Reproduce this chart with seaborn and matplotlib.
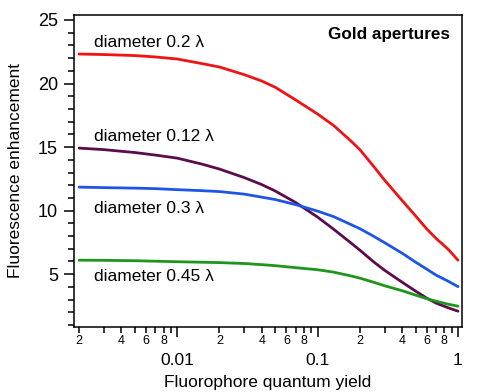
import numpy as np
import pandas as pd
import matplotlib
matplotlib.use("Agg")
import matplotlib.pyplot as plt
import matplotlib.ticker as mticker
import seaborn as sns

# ---- data ----
quantum_yield = [0.002, 0.003, 0.005, 0.007, 0.01, 0.015, 0.02, 0.03, 0.04, 0.05, 0.07, 0.1,
                 0.13, 0.17, 0.2, 0.25, 0.3, 0.4, 0.5, 0.6, 0.7, 0.85, 1.0]
d_020 = [22.32, 22.28, 22.2, 22.09, 21.93, 21.57, 21.3, 20.7, 20.2, 19.7, 18.7, 17.6,
         16.7, 15.55, 14.8, 13.5, 12.4, 10.8, 9.57, 8.55, 7.8, 6.97, 6.1]
d_012 = [14.92, 14.8, 14.57, 14.37, 14.13, 13.66, 13.27, 12.6, 12.05, 11.54, 10.63, 9.49,
         8.54, 7.52, 6.89, 5.98, 5.31, 4.37, 3.66, 3.11, 2.72, 2.36, 2.09]
d_030 = [11.85, 11.81, 11.77, 11.73, 11.65, 11.57, 11.5, 11.3, 11.06, 10.87, 10.47, 9.96,
         9.53, 8.94, 8.58, 7.99, 7.48, 6.65, 5.94, 5.39, 4.92, 4.45, 4.02]
d_045 = [6.1, 6.09, 6.06, 6.02, 5.98, 5.94, 5.91, 5.84, 5.75, 5.67, 5.51, 5.35,
         5.16, 4.88, 4.69, 4.37, 4.09, 3.70, 3.35, 3.07, 2.87, 2.64, 2.48]
series_names = ["diameter 0.2 \u03bb", "diameter 0.12 \u03bb", "diameter 0.3 \u03bb", "diameter 0.45 \u03bb"]
label_y = [23.2, 15.85, 10.15, 4.8]
colors = ["#ee1414", "#5a0c4c", "#1f55e6", "#1c961c"]

rows = []
for name, vals in zip(series_names, [d_020, d_012, d_030, d_045]):
    for q, v in zip(quantum_yield, vals):
        rows.append({"q": q, "E": v, "series": name})
df = pd.DataFrame(rows)

sns.set_style("ticks")
plt.rcParams["font.family"] = ["Liberation Sans", "DejaVu Sans"]
for key in ["text.color", "axes.labelcolor", "xtick.color", "ytick.color", "axes.edgecolor"]:
    plt.rcParams[key] = "black"

fig = plt.figure(figsize=(5.0, 3.92), dpi=100)
ax = fig.add_axes([0.148, 0.166, 0.776, 0.796])

sns.lineplot(data=df, x="q", y="E", hue="series", palette=dict(zip(series_names, colors)),
             linewidth=2.0, legend=False, ax=ax)

ax.set_xscale("log")
ax.set_xlim(0.00184, 1.068)
ax.set_ylim(0.85, 25.4)

ax.xaxis.set_major_locator(mticker.FixedLocator([0.01, 0.1, 1.0]))
ax.xaxis.set_major_formatter(mticker.FuncFormatter(lambda v, p: f"{v:g}"))
ax.xaxis.set_minor_locator(mticker.LogLocator(base=10, subs=np.arange(2, 10), numticks=20))

def minor_fmt(v, p):
    m = int(round(v / 10 ** np.floor(np.log10(v))))
    return str(m) if m in (2, 4, 6, 8) else ""

ax.xaxis.set_minor_formatter(mticker.FuncFormatter(minor_fmt))
ax.yaxis.set_major_locator(mticker.MultipleLocator(5))
ax.yaxis.set_minor_locator(mticker.MultipleLocator(1))

for s in ax.spines.values():
    s.set_linewidth(1.1)
    s.set_color("black")

ax.tick_params(axis="x", which="major", length=7.5, width=1.1, pad=11, labelsize=12.5, color="black")
ax.tick_params(axis="x", which="minor", length=4, width=1.1, pad=1.5, labelsize=9, color="black")
ax.tick_params(axis="y", which="major", length=7.5, width=1.1, pad=4, labelsize=13, color="black")
ax.tick_params(axis="y", which="minor", length=4, width=1.1, color="black")

ax.set_xlabel("Fluorophore quantum yield", fontsize=12.5, labelpad=5)
ax.set_ylabel("Fluorescence enhancement", fontsize=12.5, labelpad=11)

tr = ax.get_yaxis_transform()
for name, y in zip(series_names, label_y):
    ax.text(0.052, y, name, transform=tr, fontsize=12.5, va="center", ha="left", color="black")

ax.text(0.969, 0.936, "Gold apertures", transform=ax.transAxes, fontsize=12.3,
        fontweight="bold", ha="right", va="center", color="black")

fig.savefig("out.png", dpi=100)
